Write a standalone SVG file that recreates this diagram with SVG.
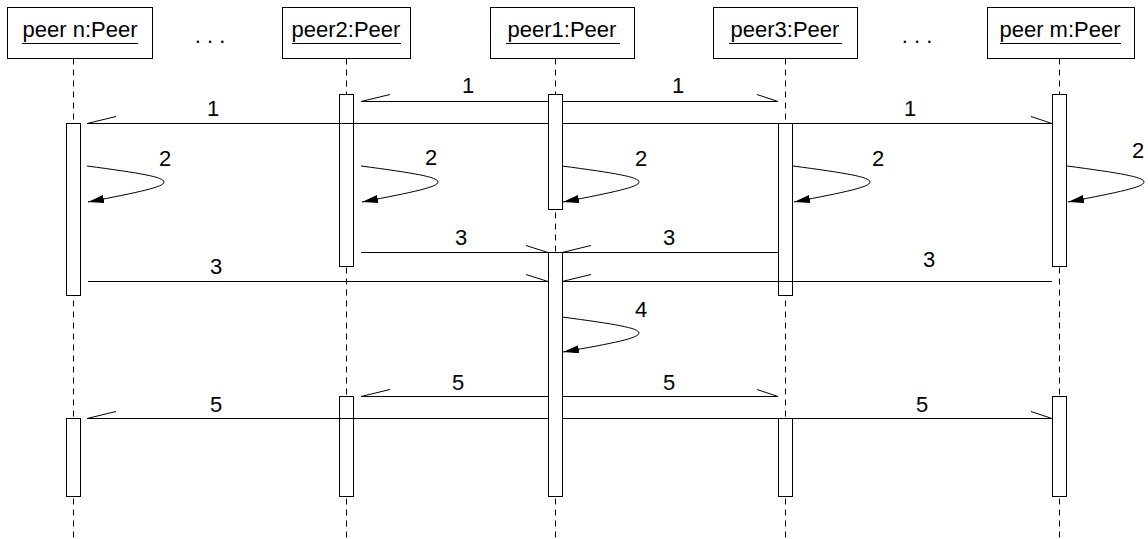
<svg xmlns="http://www.w3.org/2000/svg" width="1148" height="539" viewBox="0 0 1148 539">
  <style>
    .box { fill: #fff; stroke: #000; stroke-width: 1; }
    .life { stroke: #000; stroke-width: 1; stroke-dasharray: 6 5; fill: none; }
    .bar { fill: #fff; stroke: #000; stroke-width: 1; }
    .msg { stroke: #000; stroke-width: 1; fill: none; }
    .self { stroke: #000; stroke-width: 1; fill: none; marker-end: url(#filled); }
    .ul { stroke: #000; stroke-width: 1; }
    text { font-family: "Liberation Sans", Arial, sans-serif; font-size: 22px; fill: #000; text-anchor: middle; }
  </style>
  <defs>
    <marker id="filled" viewBox="0 0 16 8" refX="16" refY="4" markerWidth="16" markerHeight="8" markerUnits="userSpaceOnUse" orient="auto">
      <path d="M0,0 L16,4 L0,8 z" fill="#000"/>
    </marker>
  </defs>
  <rect width="1148" height="539" fill="#fff"/>

  <!-- lifelines -->
  <g id="lifelines">
    <line class="life" x1="73.5" y1="58.5" x2="73.5" y2="539"/>
    <line class="life" x1="346.5" y1="58.5" x2="346.5" y2="539"/>
    <line class="life" x1="555.5" y1="58.5" x2="555.5" y2="539"/>
    <line class="life" x1="785.5" y1="58.5" x2="785.5" y2="539"/>
    <line class="life" x1="1059.5" y1="58.5" x2="1059.5" y2="539"/>
  </g>

  <!-- participants -->
  <g id="peer-n">
    <rect class="box" x="7.5" y="7.5" width="145" height="51"/>
    <text x="80" y="37">peer n:Peer</text>
    <line class="ul" x1="22" y1="43.5" x2="138" y2="43.5"/>
    <rect class="bar" x="66.5" y="123.5" width="14" height="172"/>
    <rect class="bar" x="66.5" y="418.5" width="14" height="78"/>
  </g>
  <g id="peer2">
    <rect class="box" x="282.5" y="7.5" width="128" height="51"/>
    <text x="346" y="37">peer2:Peer</text>
    <line class="ul" x1="292" y1="43.5" x2="401" y2="43.5"/>
    <rect class="bar" x="339.5" y="94.5" width="14" height="172"/>
    <rect class="bar" x="339.5" y="396.5" width="14" height="100"/>
  </g>
  <g id="peer1">
    <rect class="box" x="490.5" y="7.5" width="144" height="51"/>
    <text x="562" y="37">peer1:Peer</text>
    <line class="ul" x1="506" y1="43.5" x2="620" y2="43.5"/>
    <rect class="bar" x="548.5" y="94.5" width="14" height="115"/>
    <rect class="bar" x="548.5" y="252.5" width="14" height="244"/>
  </g>
  <g id="peer3">
    <rect class="box" x="713.5" y="7.5" width="144" height="51"/>
    <text x="785" y="37">peer3:Peer</text>
    <line class="ul" x1="729" y1="43.5" x2="842" y2="43.5"/>
    <rect class="bar" x="778.5" y="123.5" width="14" height="172"/>
    <rect class="bar" x="778.5" y="418.5" width="14" height="78"/>
  </g>
  <g id="peer-m">
    <rect class="box" x="987.5" y="7.5" width="147" height="51"/>
    <text x="1060" y="37">peer m:Peer</text>
    <line class="ul" x1="1000" y1="43.5" x2="1121" y2="43.5"/>
    <rect class="bar" x="1052.5" y="94.5" width="14" height="172"/>
    <rect class="bar" x="1052.5" y="396.5" width="14" height="100"/>
  </g>

  <text x="210" y="43">. . .</text>
  <text x="917" y="43">. . .</text>

  <!-- messages -->
  <g id="connectors">
    <!-- 1: broadcast from peer1 -->
    <path class="msg" d="M548,101.5 H361 M361,101.5 L390,94.5"/>
    <path class="msg" d="M562,101.5 H778 M778,101.5 L757,94.5"/>
    <path class="msg" d="M548,123.5 H87 M87,123.5 L116,116.5"/>
    <path class="msg" d="M562,123.5 H1052 M1052,123.5 L1031,116.5"/>

    <!-- 2: local steps -->
    <path class="self" d="M87,166 c53,7 77,11 77,16 c0,5 -24,10 -76,20"/>
    <path class="self" d="M361,166 c53,7 77,11 77,16 c0,5 -24,10 -76,20"/>
    <path class="self" d="M562,166 c53,7 77,11 77,16 c0,5 -24,10 -76,20"/>
    <path class="self" d="M793,166 c53,7 77,11 77,16 c0,5 -24,10 -76,20"/>
    <path class="self" d="M1067,166 c53,7 77,11 77,16 c0,5 -24,10 -76,20"/>

    <!-- 3: replies to peer1 -->
    <path class="msg" d="M361,252.5 H548 M548,252.5 L526,245.5"/>
    <path class="msg" d="M778,252.5 H562 M562,252.5 L591,245.5"/>
    <path class="msg" d="M88,281.5 H548 M548,281.5 L526,274.5"/>
    <path class="msg" d="M1052,281.5 H562 M562,281.5 L591,274.5"/>

    <!-- 4 -->
    <path class="self" d="M562,317 c53,7 77,11 77,16 c0,5 -24,10 -76,19"/>

    <!-- 5: result from peer1 -->
    <path class="msg" d="M548,396.5 H361 M361,396.5 L390,389.5"/>
    <path class="msg" d="M562,396.5 H778 M778,396.5 L757,389.5"/>
    <path class="msg" d="M548,418.5 H87 M87,418.5 L116,411.5"/>
    <path class="msg" d="M562,418.5 H1052 M1052,418.5 L1031,411.5"/>
  </g>

  <!-- message labels -->
  <g id="labels">
    <text x="213" y="116">1</text>
    <text x="468" y="93">1</text>
    <text x="678" y="93">1</text>
    <text x="910" y="116">1</text>

    <text x="165" y="166">2</text>
    <text x="431" y="165">2</text>
    <text x="641" y="166">2</text>
    <text x="878" y="166">2</text>
    <text x="1138" y="158">2</text>

    <text x="461" y="245">3</text>
    <text x="669" y="245">3</text>
    <text x="216" y="274">3</text>
    <text x="929" y="267">3</text>

    <text x="641" y="317">4</text>

    <text x="458" y="390">5</text>
    <text x="669" y="390">5</text>
    <text x="216" y="412">5</text>
    <text x="922" y="412">5</text>
  </g>
</svg>
